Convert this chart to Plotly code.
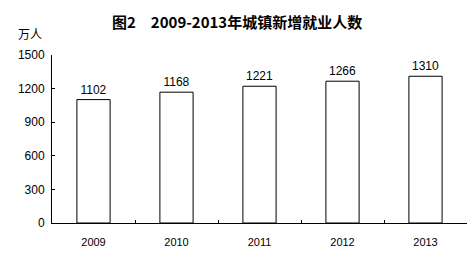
import plotly.graph_objects as go

years = ["2009", "2010", "2011", "2012", "2013"]
values = [1102, 1168, 1221, 1266, 1310]
y_ticks = [0, 300, 600, 900, 1200, 1500]

fig = go.Figure()
fig.add_trace(go.Bar(
    x=years, y=values, width=0.4,
    marker=dict(color="white", line=dict(color="black", width=1)),
    text=[str(v) for v in values], textposition="outside",
    textfont=dict(family="Liberation Sans, Arial", size=12, color="black"),
    cliponaxis=False,
))
W, H = 476, 261
l, r, t, b = 52, 9, 55, 38
pw, ph = W - l - r, H - t - b
def px(xp): return (xp - l) / pw
def py(yp): return (H - b - yp) / ph

fig.update_layout(
    width=W, height=H,
    margin=dict(l=l, r=r, t=t, b=b),
    paper_bgcolor="white", plot_bgcolor="white",
    showlegend=False,
    font=dict(family="Liberation Sans, Arial", size=12, color="black"),
    annotations=[
        dict(text="<b>图2　2009-2013年城镇新增就业人数</b>", x=px(237), xref="paper", xanchor="center",
             y=py(21), yref="paper", yanchor="middle", showarrow=False,
             font=dict(family="Noto Sans CJK SC", size=15, color="black")),
        dict(text="万人", x=px(30), y=py(33), xref="paper", yref="paper",
             xanchor="center", yanchor="middle", showarrow=False,
             font=dict(family="Noto Sans CJK SC", size=12, color="black")),
    ],
)

fig.update_xaxes(type="category", showline=True, linecolor="black", linewidth=1,
                 ticks="inside", tickson="boundaries", ticklen=3, tickcolor="black",
                 showgrid=False, tickfont=dict(size=11), ticklabelstandoff=9)
fig.update_yaxes(range=[0, 1500], tickvals=y_ticks, showline=True, linecolor="black", linewidth=1,
                 ticks="inside", ticklen=3, tickcolor="black", showgrid=False, zeroline=False,
                 tickfont=dict(size=12), ticklabelstandoff=4)
fig.write_html("out.html")
